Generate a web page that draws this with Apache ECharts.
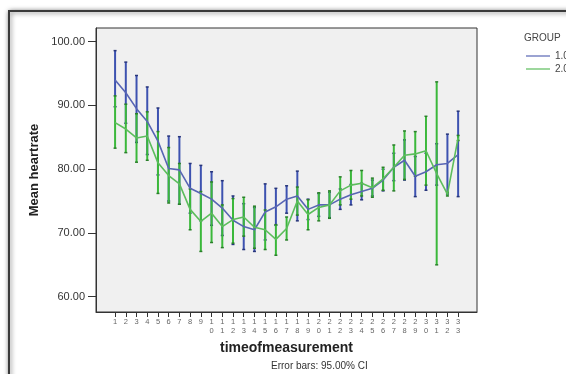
<!DOCTYPE html>
<html>
<head>
<meta charset="utf-8">
<script src="https://cdn.jsdelivr.net/npm/echarts@6/dist/echarts.min.js"></script>
<style>
  html, body { margin: 0; padding: 0; background: #fff; }
  #chart { width: 566px; height: 374px; }
</style>
</head>
<body>
<div id="chart"></div>
<script>
const times = [1, 2, 3, 4, 5, 6, 7, 8, 9, 10, 11, 12, 13, 14, 15, 16, 17, 18, 19, 20, 21, 22, 23, 24, 25, 26, 27, 28, 29, 30, 31, 32, 33]
const yTicks = [60, 70, 80, 90, 100]

const group1Mean = [94.0, 92.0, 89.5, 87.5, 84.4, 80.1, 79.9, 77.0, 76.2, 75.3, 73.9, 72.0, 71.0, 70.5, 73.3, 74.1, 75.3, 75.8, 73.7, 74.4, 74.4, 75.3, 76.0, 76.5, 77.0, 78.3, 80.3, 81.4, 78.9, 79.6, 80.7, 80.9, 82.3]
const group1Low = [89.8, 87.2, 84.2, 82.3, 79.1, 75.0, 74.5, 73.1, 71.9, 71.2, 69.6, 68.2, 67.4, 67.1, 68.9, 71.2, 73.1, 71.9, 72.1, 72.6, 72.4, 73.7, 74.4, 75.2, 75.8, 76.6, 78.2, 78.3, 75.7, 76.7, 77.5, 76.1, 75.7]
const group1High = [98.6, 96.8, 94.7, 92.9, 89.6, 85.2, 85.1, 80.9, 80.6, 79.6, 78.2, 75.8, 74.6, 74.0, 77.7, 77.0, 77.4, 79.7, 75.3, 76.2, 76.4, 76.9, 77.6, 77.8, 78.3, 80.0, 82.5, 84.6, 82.0, 82.5, 84.0, 85.5, 89.1]

const group2Mean = [87.3, 86.3, 84.9, 85.2, 81.0, 79.0, 77.7, 73.7, 71.8, 73.1, 71.0, 72.1, 72.5, 70.9, 70.5, 69.0, 70.7, 75.0, 72.9, 74.0, 74.4, 76.6, 77.5, 77.8, 77.1, 78.5, 80.3, 82.2, 82.4, 82.9, 79.3, 76.1, 84.9]
const group2Low = [83.3, 82.6, 81.1, 81.4, 76.2, 74.7, 74.5, 70.5, 67.1, 68.5, 67.7, 68.4, 69.5, 67.6, 67.4, 66.5, 68.9, 72.8, 70.5, 71.9, 72.3, 74.4, 75.3, 75.8, 75.6, 76.7, 76.6, 78.4, 78.9, 77.5, 65.0, 75.8, 84.5]
const group2High = [91.5, 90.2, 88.7, 89.0, 85.9, 83.4, 80.9, 76.9, 76.5, 78.0, 74.4, 75.4, 75.6, 74.2, 73.6, 71.3, 72.5, 77.2, 75.2, 76.3, 76.6, 78.8, 79.8, 79.8, 78.6, 80.3, 83.8, 86.0, 85.9, 88.3, 93.7, 76.4, 85.3]

const BLUE_LINE = '#5865b4'
const BLUE_BAR = '#3d52b0'
const BLUE_CAP = '#27357a'
const GREEN_LINE = '#5cbd5c'
const GREEN_BAR = '#3bb83b'
const GREEN_CAP = '#2a7f2a'

function errorBars(barColor, capColor) {
  return (params, api) => {
    const x = api.value(0)
    const lo = api.coord([x, api.value(1)])
    const hi = api.coord([x, api.value(2)])
    const cap = { stroke: capColor, lineWidth: 1.5 }
    return {
      type: 'group',
      children: [
        { type: 'line', shape: { x1: lo[0], y1: lo[1], x2: hi[0], y2: hi[1] }, style: { stroke: barColor, lineWidth: 2 } },
        { type: 'line', shape: { x1: lo[0] - 1.5, y1: lo[1], x2: lo[0] + 1.5, y2: lo[1] }, style: cap },
        { type: 'line', shape: { x1: hi[0] - 1.5, y1: hi[1], x2: hi[0] + 1.5, y2: hi[1] }, style: cap },
      ],
    }
  }
}

const chart = echarts.init(document.getElementById('chart'))

chart.setOption({
  backgroundColor: '#fff',
  animation: false,
  textStyle: { fontFamily: 'Liberation Sans, Arial, sans-serif' },
  graphic: [
    {
      type: 'rect',
      z: -10,
      shape: { x: 9, y: 11, width: 620, height: 420 },
      style: { fill: '#fff', stroke: '#3a3a3a', lineWidth: 2, shadowBlur: 5, shadowColor: 'rgba(0,0,0,0.55)', shadowOffsetX: 1, shadowOffsetY: 1 },
    },
    {
      type: 'text',
      left: 524,
      top: 33,
      style: { text: 'GROUP', fontSize: 10, fill: '#444', fontFamily: 'Liberation Sans, Arial, sans-serif' },
    },
    {
      type: 'text',
      left: 271,
      top: 361,
      style: { text: 'Error bars: 95.00% CI', fontSize: 10, fill: '#333', fontFamily: 'Liberation Sans, Arial, sans-serif' },
    },
  ],
  legend: {
    orient: 'vertical',
    left: 521,
    top: 46,
    itemWidth: 24,
    itemHeight: 8,
    itemGap: 3,
    data: [
      { name: '1.00', icon: 'path://M0,4 L24,4 L24,5.2 L0,5.2 Z', itemStyle: { color: BLUE_LINE } },
      { name: '2.00', icon: 'path://M0,4 L24,4 L24,5.2 L0,5.2 Z', itemStyle: { color: GREEN_LINE } },
    ],
    textStyle: { fontSize: 10, color: '#444' },
  },
  grid: { left: 96, top: 28, width: 381, height: 284, show: true, backgroundColor: '#f0f0f0', borderColor: '#333', borderWidth: 1 },
  xAxis: {
    type: 'value',
    min: -0.78,
    max: 34.76,
    name: 'timeofmeasurement',
    nameLocation: 'middle',
    nameGap: 29,
    nameTextStyle: { fontSize: 14, fontWeight: 'bold', color: '#222' },
    axisLine: { onZero: false, lineStyle: { color: '#333' } },
    axisTick: { show: true, length: 5, customValues: times, lineStyle: { color: '#333' } },
    axisLabel: {
      customValues: times,
      fontSize: 7.5,
      lineHeight: 8.3,
      color: '#666',
      margin: 6,
      formatter: v => String(v).split('').join('\n'),
    },
    splitLine: { show: false },
  },
  yAxis: {
    type: 'value',
    min: 57.6,
    max: 102.15,
    name: 'Mean heartrate',
    nameLocation: 'middle',
    nameGap: 52,
    nameTextStyle: { fontSize: 13, fontWeight: 'bold', color: '#222' },
    axisLine: { show: true, onZero: false, lineStyle: { color: '#333' } },
    axisTick: { show: true, length: 8, customValues: yTicks, lineStyle: { color: '#333' } },
    axisLabel: {
      customValues: yTicks,
      fontSize: 11,
      color: '#333',
      margin: 11,
      formatter: v => v.toFixed(2),
    },
    splitLine: { show: false },
  },
  series: [
    {
      name: 'ci1',
      type: 'custom',
      renderItem: errorBars(BLUE_BAR, BLUE_CAP),
      encode: { x: 0, y: [1, 2] },
      data: times.map((t, i) => [t, group1Low[i], group1High[i]]),
      silent: true,
      z: 2,
    },
    {
      name: 'ci2',
      type: 'custom',
      renderItem: errorBars(GREEN_BAR, GREEN_CAP),
      encode: { x: 0, y: [1, 2] },
      data: times.map((t, i) => [t, group2Low[i], group2High[i]]),
      silent: true,
      z: 3,
    },
    {
      name: '1.00',
      type: 'line',
      symbol: 'none',
      lineStyle: { color: BLUE_LINE, width: 1.6 },
      itemStyle: { color: BLUE_LINE },
      data: times.map((t, i) => [t, group1Mean[i]]),
      silent: true,
      z: 4,
    },
    {
      name: '2.00',
      type: 'line',
      symbol: 'none',
      lineStyle: { color: GREEN_LINE, width: 1.6 },
      itemStyle: { color: GREEN_LINE },
      data: times.map((t, i) => [t, group2Mean[i]]),
      silent: true,
      z: 5,
    },
  ],
})
</script>
</body>
</html>
